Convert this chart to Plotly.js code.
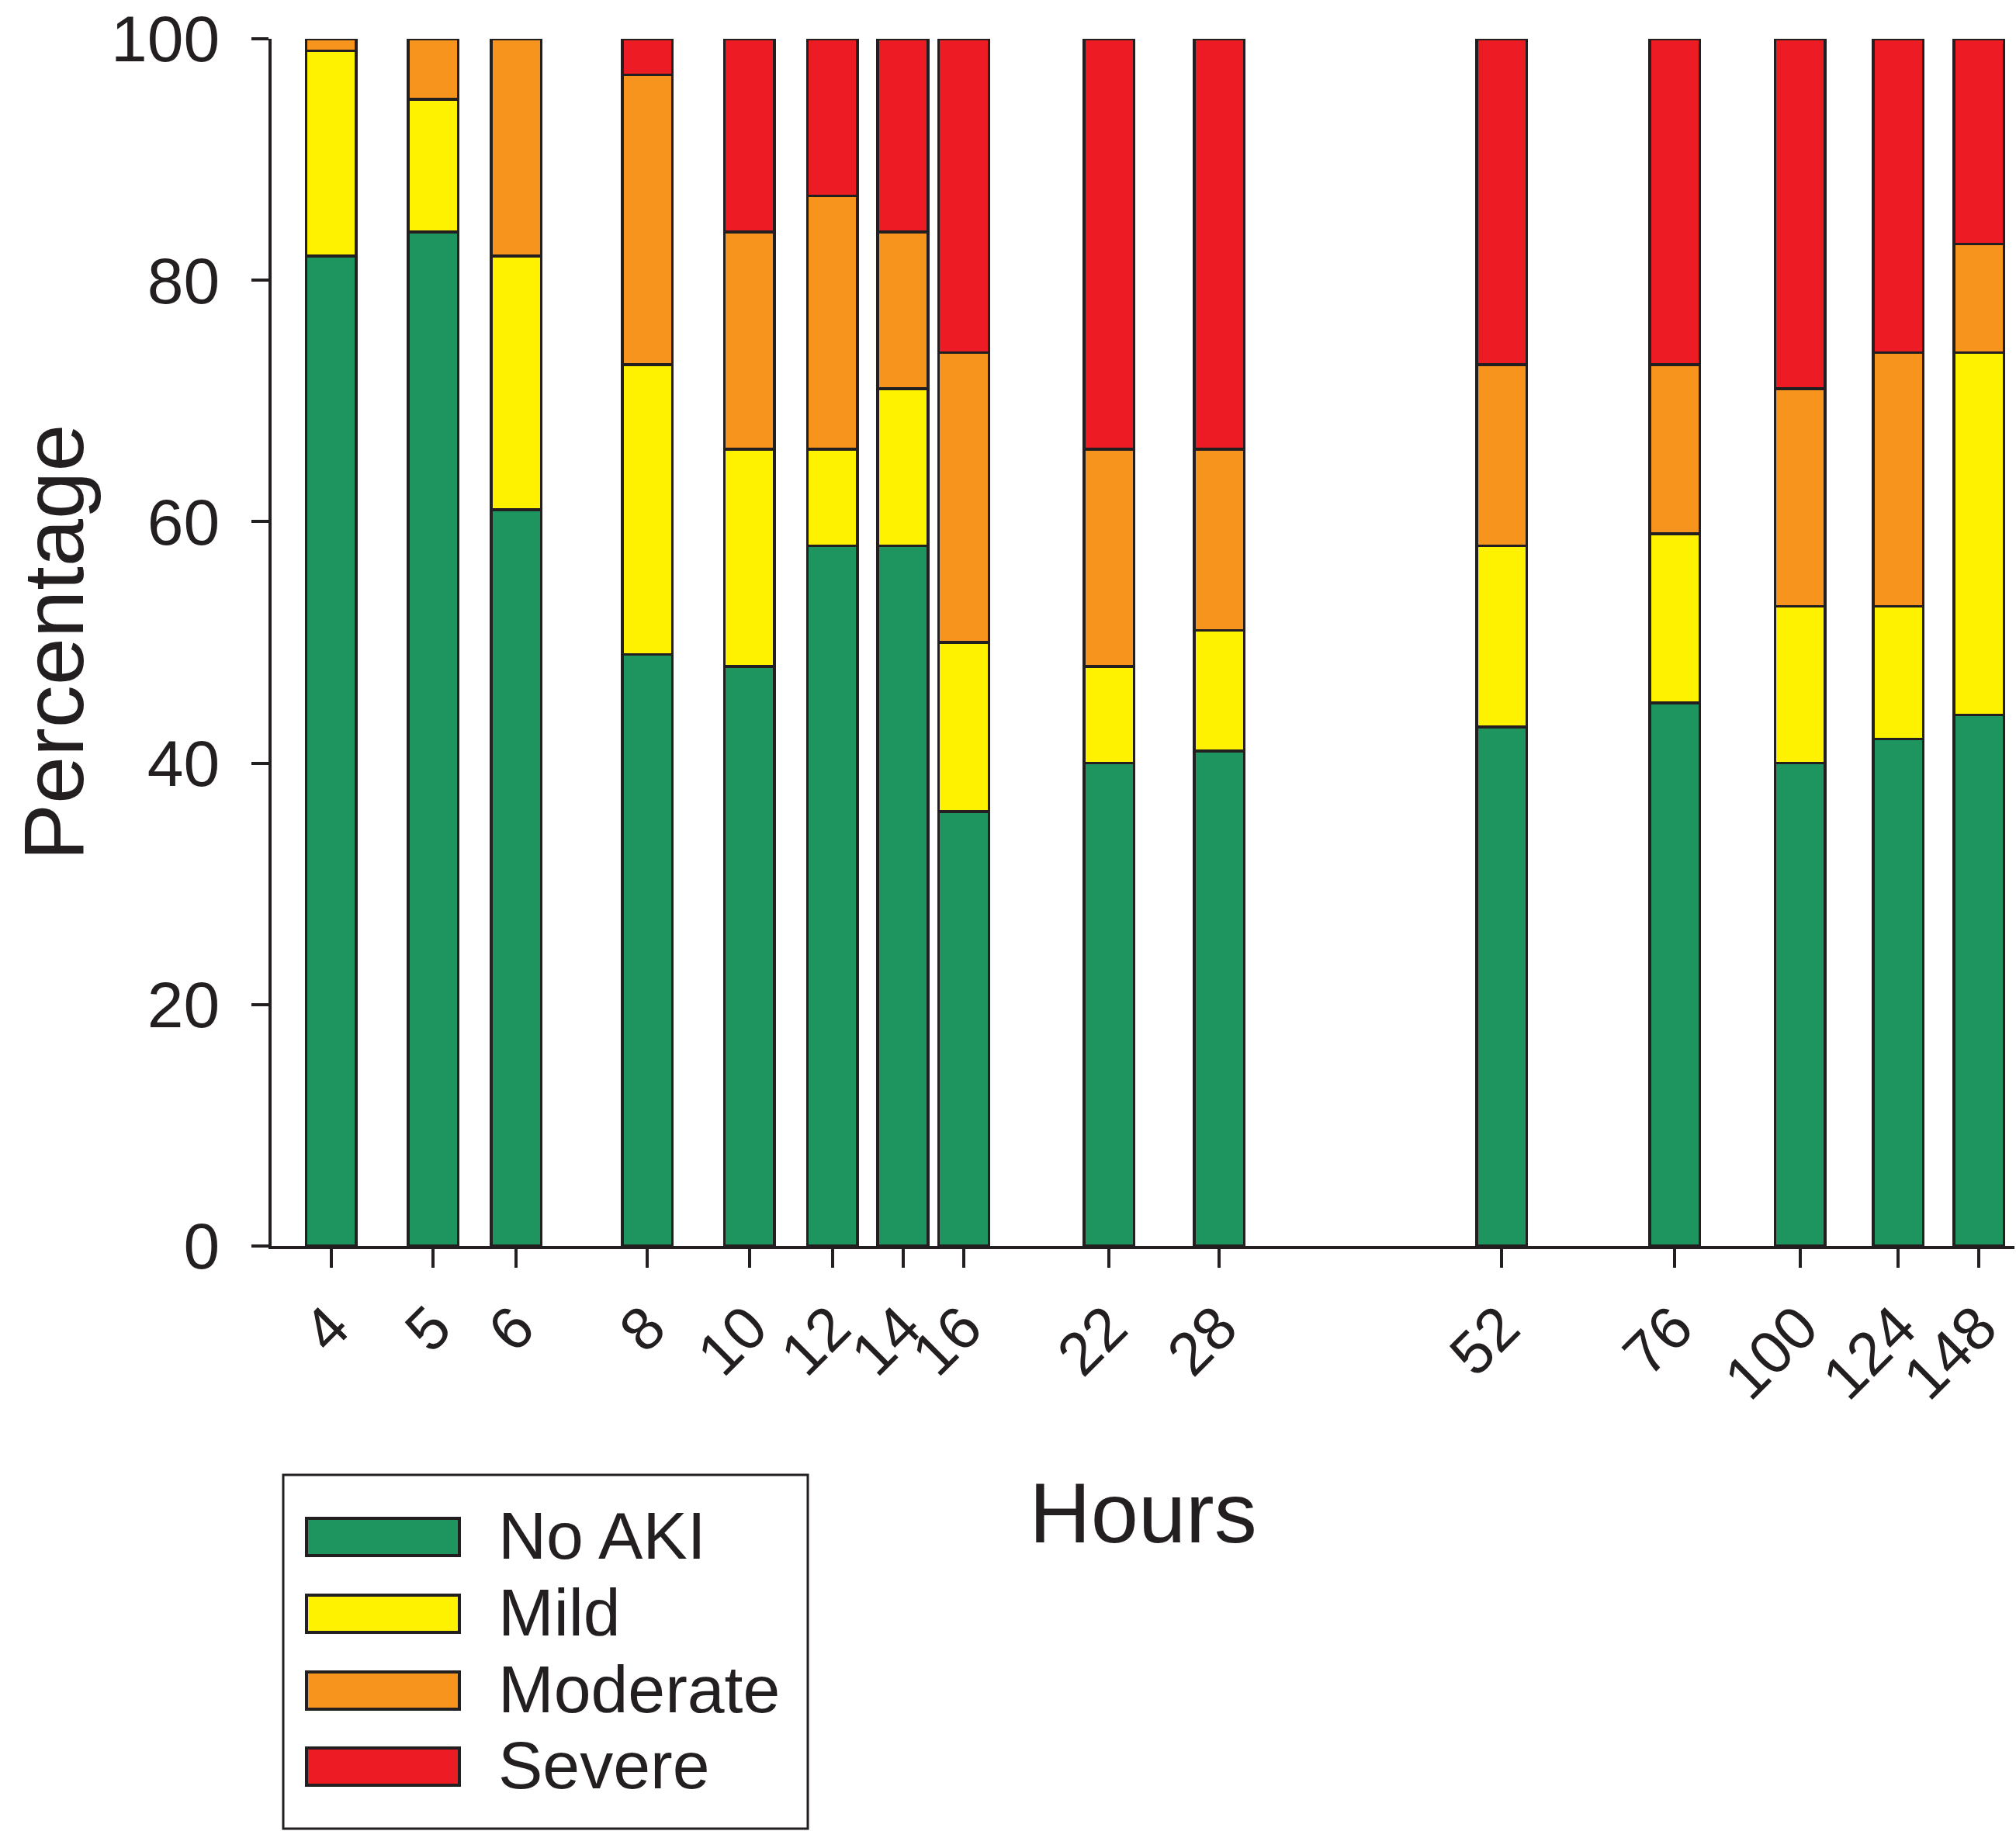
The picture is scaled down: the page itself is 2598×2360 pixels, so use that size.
<!DOCTYPE html>
<html>
<head>
<meta charset="utf-8">
<script src="https://cdn.plot.ly/plotly-3.0.1.min.js"></script>
<style>
  html, body { margin: 0; padding: 0; background: #fff; }
  #myDiv { width: 2598px; height: 2360px; }
</style>
</head>
<body>
<div id="myDiv"></div>
<script>
// hours (axis is log spaced)
var hours = [4, 5, 6, 8, 10, 12, 14, 16, 22, 28, 52, 76, 100, 124, 148];

// percentage of each AKI grade per time point
var noAki    = [82, 84, 61, 49, 48, 58, 58, 36, 40, 41, 43, 45, 40, 42, 44];
var mild     = [17, 11, 21, 24, 18,  8, 13, 14,  8, 10, 15, 14, 13, 11, 30];
var moderate = [ 1,  5, 18, 24, 18, 21, 13, 24, 18, 15, 15, 14, 18, 21,  9];
var severe   = [ 0,  0,  0,  3, 16, 13, 16, 26, 34, 34, 27, 27, 29, 26, 17];

var seriesNames = ['No AKI', 'Mild', 'Moderate', 'Severe'];
var seriesColors = ['#1e945e', '#fff200', '#f7941d', '#ed1c24'];
var seriesValues = [noAki, mild, moderate, severe];

var yTicks = [0, 20, 40, 60, 80, 100];

var FONT = '"Liberation Sans", Arial, Helvetica, sans-serif';
var INK = '#231f20';

// plot area in pixels, used to place the hand drawn legend
var plotL = 350, plotR = 2596, plotT = 50, plotB = 1606;
function pxX(px) { return (px - plotL) / (plotR - plotL); }
function pxY(py) { return (plotB - py) / (plotB - plotT); }

var logHours = hours.map(function (h) { return Math.log10(h); });

var data = [];
for (var i = 0; i < seriesNames.length; i++) {
    data.push({
        type: 'bar',
        name: seriesNames[i],
        x: logHours,
        y: seriesValues[i],
        width: 0.0477,
        cliponaxis: false,
        marker: {
            color: seriesColors[i],
            line: { color: INK, width: 3.5 }
        },
        hoverinfo: 'skip'
    });
}

// legend drawn by hand: big swatches like the original
var shapes = [{
    type: 'rect', xref: 'paper', yref: 'paper',
    x0: pxX(365), x1: pxX(1041), y0: pxY(1901), y1: pxY(2357),
    line: { color: INK, width: 3 }, fillcolor: 'rgba(0,0,0,0)'
}];
var annotations = [];
var rowY = [1981, 2080, 2179, 2277];
for (var k = 0; k < seriesNames.length; k++) {
    shapes.push({
        type: 'rect', xref: 'paper', yref: 'paper',
        x0: pxX(395), x1: pxX(592), y0: pxY(rowY[k] - 24), y1: pxY(rowY[k] + 24),
        line: { color: INK, width: 4 }, fillcolor: seriesColors[k]
    });
    annotations.push({
        xref: 'paper', yref: 'paper',
        x: pxX(640), y: pxY(rowY[k] - 2),
        xanchor: 'left', yanchor: 'middle',
        text: seriesNames[k], showarrow: false,
        font: { family: FONT, size: 86, color: INK }
    });
}

var layout = {
    width: 2598,
    height: 2360,
    barmode: 'stack',
    showlegend: false,
    paper_bgcolor: '#ffffff',
    plot_bgcolor: '#ffffff',
    font: { family: FONT, color: INK },
    margin: { l: plotL, r: 2598 - plotR, t: plotT, b: 2360 - plotB, pad: 0 },
    xaxis: {
        range: [Math.log10(3.51), Math.log10(160)],
        tickmode: 'array',
        tickvals: logHours,
        ticktext: hours.map(String),
        tickangle: -45,
        ticks: 'outside',
        ticklen: 24,
        tickwidth: 4,
        tickcolor: INK,
        tickfont: { family: FONT, size: 78, color: INK },
        showline: true,
        linecolor: INK,
        linewidth: 4,
        showgrid: false,
        zeroline: false,
        title: { text: 'Hours', font: { family: FONT, size: 110, color: INK }, standoff: 93 }
    },
    yaxis: {
        range: [0, 100],
        tickmode: 'array',
        tickvals: yTicks,
        ticks: 'outside',
        ticklen: 22,
        tickwidth: 4,
        tickcolor: INK,
        tickfont: { family: FONT, size: 84, color: INK },
        ticklabelstandoff: 24,
        ticklabeloverflow: 'allow',
        showline: true,
        linecolor: INK,
        linewidth: 4,
        showgrid: false,
        zeroline: false,
        title: { text: 'Percentage', font: { family: FONT, size: 110, color: INK }, standoff: 0 }
    },
    shapes: shapes,
    annotations: annotations
};

var config = {
    displayModeBar: false,
    responsive: false
};

Plotly.newPlot('myDiv', data, layout, config);
</script>
</body>
</html>
